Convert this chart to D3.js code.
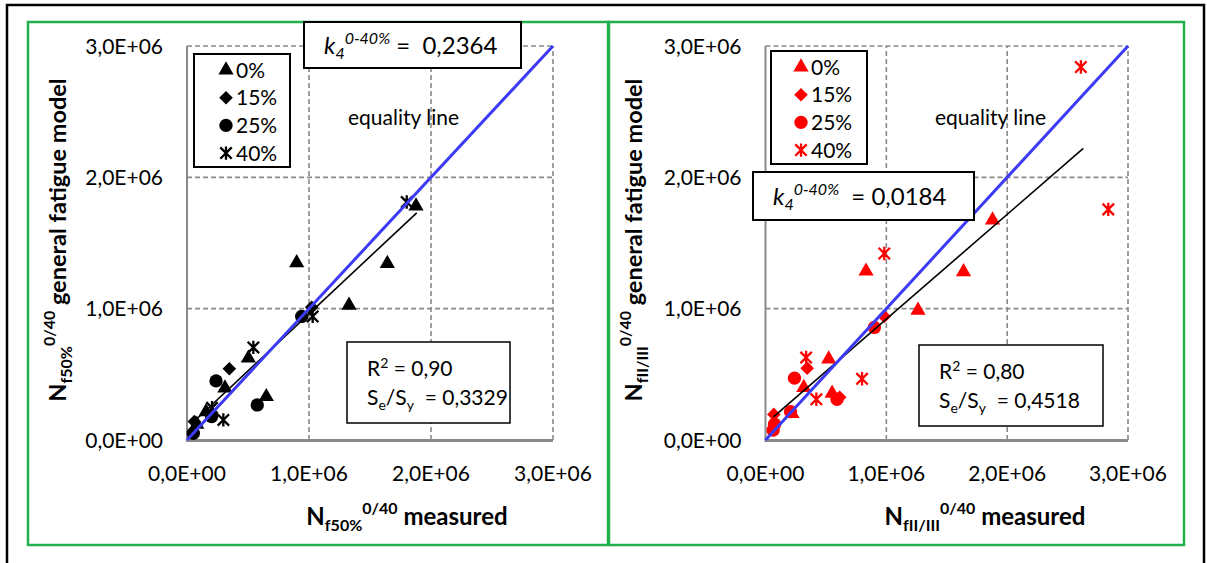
<!DOCTYPE html>
<html><head><meta charset="utf-8">
<script src="https://cdn.jsdelivr.net/npm/d3@7"></script>
<style>body{margin:0;background:#fff}svg{display:block}text{font-family:Lato,"Open Sans",sans-serif}</style>
</head><body>
<svg id="c" width="1207" height="563"></svg>
<script>
// values in units of 1E+06 cycles
const tickValues = [0, 1, 2, 3];
const tickLabels = ["0,0E+00", "1,0E+06", "2,0E+06", "3,0E+06"];
const seriesNames = ["0%", "15%", "25%", "40%"];

const left0  = [[0.899,1.349],[1.642,1.344],[1.328,1.025],[1.877,1.781],[0.503,0.623],[0.311,0.395],[0.650,0.330],[0.156,0.215],[0.08,0.12]];
const left15 = [[0.347,0.542],[1.022,1.010],[0.06,0.14]];
const left25 = [[0.238,0.450],[0.940,0.941],[0.576,0.267],[0.202,0.178],[0.052,0.051]];
const left40 = [[0.544,0.705],[1.801,1.812],[1.030,0.941],[0.205,0.245],[0.298,0.153]];
const leftTrend = [[0.08,0.16],[1.883,1.730]];

const right0  = [[1.879,1.674],[0.832,1.285],[1.639,1.280],[1.262,0.987],[0.523,0.616],[0.317,0.399],[0.551,0.356],[0.22,0.20]];
const right15 = [[0.345,0.547],[0.983,0.941],[0.614,0.326],[0.069,0.195]];
const right25 = [[0.240,0.471],[0.901,0.857],[0.592,0.310],[0.207,0.216],[0.075,0.12],[0.063,0.075]];
const right40 = [[2.837,1.756],[2.61,2.84],[0.983,1.420],[0.336,0.628],[0.799,0.466],[0.421,0.310]];
const rightTrend = [[0.066,0.176],[2.63,2.22]];

const equality = [[0,0],[3,3]];

const svg = d3.select("#c");
const GRID = "#8a8a8a", GREEN = "#21b04b", BLUE = "#3b3bf5";

// outer frame
svg.append("rect").attr("x",7).attr("y",5).attr("width",1197).attr("height",640)
  .attr("fill","none").attr("stroke","#000").attr("stroke-width",2.5);

function markerPath(kind){
  if(kind===0) return d3.symbol(d3.symbolTriangle, 100)();
  if(kind===1) return "M0,-6.8L6.8,0L0,6.8L-6.8,0Z";
  if(kind===2) return d3.symbol(d3.symbolCircle, 140)();
  const s=5.7;
  return `M${-s},${-s}L${s},${s}M${-s},${s}L${s},${-s}M0,${-s-1}L0,${s+1}`;
}
function drawMarker(g, kind, color, x, y){
  const p = g.append("path").attr("d", markerPath(kind))
    .attr("transform", `translate(${x},${y})`);
  if(kind===3) p.attr("fill","none").attr("stroke",color).attr("stroke-width",2.3);
  else p.attr("fill",color);
}

function panel(o){
  const g = svg.append("g");
  g.append("rect").attr("x",o.frame[0]).attr("y",22).attr("width",o.frame[1]-o.frame[0]).attr("height",523)
    .attr("fill","none").attr("stroke",GREEN).attr("stroke-width",2.5);
  const x = d3.scaleLinear().domain([0,3]).range(o.xr);
  const y = d3.scaleLinear().domain([0,3]).range([440,46]);
  // grid
  g.selectAll(".gx").data(tickValues.slice(1)).join("line")
    .attr("x1",d=>x(d)).attr("x2",d=>x(d)).attr("y1",y(0)).attr("y2",y(3))
    .attr("stroke",GRID).attr("stroke-width",1.6).attr("stroke-dasharray","5,3");
  g.selectAll(".gy").data(tickValues.slice(1)).join("line")
    .attr("x1",x(0)).attr("x2",x(3)).attr("y1",d=>y(d)).attr("y2",d=>y(d))
    .attr("stroke",GRID).attr("stroke-width",1.6).attr("stroke-dasharray","5,3");
  // axes
  g.append("line").attr("x1",x(0)).attr("x2",x(0)).attr("y1",y(0)).attr("y2",y(3))
    .attr("stroke",GRID).attr("stroke-width",2);
  g.append("line").attr("x1",x(0)-1).attr("x2",x(3)).attr("y1",y(0)+0.5).attr("y2",y(0)+0.5)
    .attr("stroke",GRID).attr("stroke-width",3);
  // tick labels
  g.selectAll(".ty").data(tickValues).join("text")
    .attr("x",x(0)-24).attr("y",d=>y(d)).attr("dy","0.36em").attr("text-anchor","end")
    .attr("font-size",21).attr("fill","#000").text((d,i)=>tickLabels[i]);
  g.selectAll(".tx").data(tickValues).join("text")
    .attr("x",d=>x(d)).attr("y",481).attr("text-anchor","middle")
    .attr("font-size",21).attr("fill","#000").text((d,i)=>tickLabels[i]);
  // points
  o.series.forEach((s,k)=>{
    s.forEach(p=>drawMarker(g,k,o.color,x(p[0]),y(p[1])));
  });
  // trend line
  const line = d3.line().x(d=>x(d[0])).y(d=>y(d[1]));
  g.append("path").attr("d",line(o.trend)).attr("stroke","#000").attr("stroke-width",1.6).attr("fill","none");
  g.append("path").attr("d",line(equality)).attr("stroke",BLUE).attr("stroke-width",3).attr("fill","none");
  // equality label
  g.append("text").attr("x",o.eqx).attr("y",125).attr("font-size",21).text("equality line");
  // legend
  const L = o.legend;
  g.append("rect").attr("x",L[0]).attr("y",L[1]).attr("width",96).attr("height",113)
    .attr("fill","#fff").attr("stroke","#000").attr("stroke-width",2);
  seriesNames.forEach((n,k)=>{
    const yy = L[1]+16+k*27.7;
    drawMarker(g,k,o.color,L[0]+o.lmx,yy);
    g.append("text").attr("x",L[0]+o.lmx+10).attr("y",yy).attr("dy","0.36em")
      .attr("font-size",21).text(n);
  });
  // k4 box
  const K = o.kbox;
  g.append("rect").attr("x",K[0]).attr("y",K[1]).attr("width",K[2]).attr("height",K[3])
    .attr("fill","#fff").attr("stroke","#000").attr("stroke-width",2);
  const kt = g.append("text").attr("x",K[0]+20).attr("y",K[1]+K[3]/2+9).attr("font-size",24);
  kt.append("tspan").attr("font-style","italic").text("k");
  kt.append("tspan").attr("font-style","italic").attr("font-size",16).attr("dy",5).text("4");
  kt.append("tspan").attr("font-style","italic").attr("font-size",16).attr("dy",-15).text("0-40%");
  kt.append("tspan").attr("dy",10).attr("xml:space","preserve").text(o.k4);
  // R2 box
  const R = o.rbox;
  g.append("rect").attr("x",R[0]).attr("y",R[1]).attr("width",R[2]).attr("height",R[3])
    .attr("fill","#fff").attr("stroke","#000").attr("stroke-width",1.5);
  const r1 = g.append("text").attr("x",R[0]+20).attr("y",R[1]+34).attr("font-size",21);
  r1.append("tspan").text("R");
  r1.append("tspan").attr("font-size",14).attr("dy",-8).text("2");
  r1.append("tspan").attr("dy",8).text(" = "+o.r2);
  const r2 = g.append("text").attr("x",R[0]+20).attr("y",R[1]+63).attr("font-size",21);
  r2.append("tspan").text("S");
  r2.append("tspan").attr("font-size",14).attr("dy",5).text("e");
  r2.append("tspan").attr("dy",-5).text("/S");
  r2.append("tspan").attr("font-size",14).attr("dy",5).text("y");
  r2.append("tspan").attr("dy",-5).text("\u00a0 = "+o.se);
  // axis titles
  const xt = g.append("text").attr("x",o.xtc).attr("y",525).attr("text-anchor","middle")
    .attr("font-size",24).attr("font-weight","bold");
  xt.append("tspan").text("N");
  xt.append("tspan").attr("font-size",16).attr("dy",6).text(o.sub);
  xt.append("tspan").attr("font-size",16).attr("dy",-17).text("0/40");
  xt.append("tspan").attr("dy",11).text(" measured");
  const yt = g.append("text").attr("transform",`translate(${o.ytx},240) rotate(-90)`)
    .attr("text-anchor","middle").attr("font-size",23.5).attr("font-weight","bold");
  yt.append("tspan").text("N");
  yt.append("tspan").attr("font-size",16).attr("dy",6).text(o.sub);
  yt.append("tspan").attr("font-size",16).attr("dy",-17).text("0/40");
  yt.append("tspan").attr("dy",11).text(" general fatigue model");
}

panel({frame:[28,608], xr:[187,553], color:"#000", series:[left0,left15,left25,left40],
  trend:leftTrend, eqx:348, legend:[194,54], lmx:32, kbox:[304,22,217,46], k4:"\u00a0=\u00a0 0,2364",
  rbox:[347,342,163,81], r2:"0,90", se:"0,3329", xtc:407, ytx:66, sub:"f50%"});
panel({frame:[609,1184], xr:[765.5,1128], color:"#ff0000", series:[right0,right15,right25,right40],
  trend:rightTrend, eqx:935, legend:[771,51], lmx:30, kbox:[753,172,221,48], k4:"\u00a0 = 0,0184",
  rbox:[919,345,184,81], r2:"0,80", se:"0,4518", xtc:985, ytx:642, sub:"fII/III"});
</script>
</body></html>
